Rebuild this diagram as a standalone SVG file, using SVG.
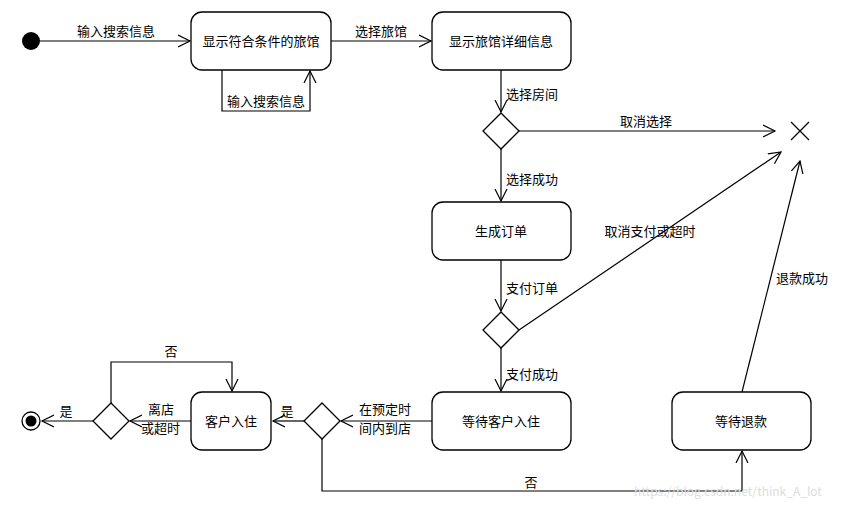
<svg xmlns="http://www.w3.org/2000/svg" width="852" height="509" viewBox="0 0 852 509">
<style>
.n{fill:#fff;stroke:#000;stroke-width:1.3}
.e{fill:none;stroke:#000;stroke-width:1.2}
text{font-family:"Noto Sans CJK SC","Liberation Sans",sans-serif;font-size:13px;fill:#000}
.c{text-anchor:middle}
</style>
<defs>
<marker id="a" markerWidth="14" markerHeight="14" refX="12" refY="7" orient="auto" markerUnits="userSpaceOnUse">
<path d="M0,1 L12,7 L0,13" fill="none" stroke="#000" stroke-width="1.2"/>
</marker>
</defs>
<rect width="852" height="509" fill="#fff"/>
<g id="connectors">
<path class="e" d="M40,41 H190" marker-end="url(#a)"/>
<text x="116" y="36" class="c">输入搜索信息</text>
<path class="e" d="M222,70 V111 H310 V71" marker-end="url(#a)"/>
<text x="266" y="106" class="c">输入搜索信息</text>
<path class="e" d="M331,41 H431" marker-end="url(#a)"/>
<text x="381" y="36" class="c">选择旅馆</text>
<path class="e" d="M501,70 V112" marker-end="url(#a)"/>
<text x="506" y="99">选择房间</text>
<path class="e" d="M519,131 H775" marker-end="url(#a)"/>
<text x="646" y="126" class="c">取消选择</text>
<path class="e" d="M501,149 V201" marker-end="url(#a)"/>
<text x="506" y="184">选择成功</text>
<path class="e" d="M501,260 V311" marker-end="url(#a)"/>
<text x="506" y="293">支付订单</text>
<path class="e" d="M519,330 L781,152" marker-end="url(#a)"/>
<text x="650" y="236" class="c">取消支付或超时</text>
<path class="e" d="M501,348 V391" marker-end="url(#a)"/>
<text x="506" y="379">支付成功</text>
<path class="e" d="M742,392 L800,161" marker-end="url(#a)"/>
<text x="776" y="283">退款成功</text>
<path class="e" d="M432,421 H341" marker-end="url(#a)"/>
<text x="359" y="414">在预定时</text>
<text x="359" y="433">间内到店</text>
<path class="e" d="M322,439 V491 H742 V451" marker-end="url(#a)"/>
<text x="531" y="487" class="c">否</text>
<path class="e" d="M304,421 H273" marker-end="url(#a)"/>
<text x="287" y="416" class="c">是</text>
<path class="e" d="M191,421 H130" marker-end="url(#a)"/>
<text x="148" y="414">离店</text>
<text x="141" y="433">或超时</text>
<path class="e" d="M111,403 V362 H232 V391" marker-end="url(#a)"/>
<text x="171" y="356" class="c">否</text>
<path class="e" d="M93,421 H42" marker-end="url(#a)"/>
<text x="66" y="416" class="c">是</text>
</g>
<g id="start"><circle cx="31" cy="41" r="9" fill="#000"/></g>
<g id="n1"><rect class="n" x="191" y="12" width="140" height="58" rx="11"/><text x="261" y="46" class="c">显示符合条件的旅馆</text></g>
<g id="n2"><rect class="n" x="432" y="12" width="139" height="58" rx="11"/><text x="501" y="46" class="c">显示旅馆详细信息</text></g>
<g id="d1"><path class="n" d="M501,113 L519,131 L501,149 L483,131Z"/></g>
<g id="x"><path class="e" d="M791,122 L809,140 M809,122 L791,140"/></g>
<g id="n3"><rect class="n" x="432" y="202" width="139" height="58" rx="11"/><text x="501" y="236" class="c">生成订单</text></g>
<g id="d2"><path class="n" d="M501,312 L519,330 L501,348 L483,330Z"/></g>
<g id="n4"><rect class="n" x="432" y="392" width="139" height="58" rx="11"/><text x="501" y="426" class="c">等待客户入住</text></g>
<g id="n5"><rect class="n" x="672" y="392" width="139" height="58" rx="11"/><text x="741" y="426" class="c">等待退款</text></g>
<g id="d3"><path class="n" d="M322,403 L340,421 L322,439 L304,421Z"/></g>
<g id="n6"><rect class="n" x="191" y="392" width="80" height="58" rx="11"/><text x="231" y="426" class="c">客户入住</text></g>
<g id="d4"><path class="n" d="M111,403 L129,421 L111,439 L93,421Z"/></g>
<g id="end"><circle cx="31" cy="421" r="9" fill="#fff" stroke="#000" stroke-width="1.3"/><circle cx="31" cy="421" r="5.5" fill="#000"/></g>
<text x="728" y="496" class="c" style="font-size:12px;fill:#ddd">https://blog.csdn.net/think_A_lot</text>
</svg>
